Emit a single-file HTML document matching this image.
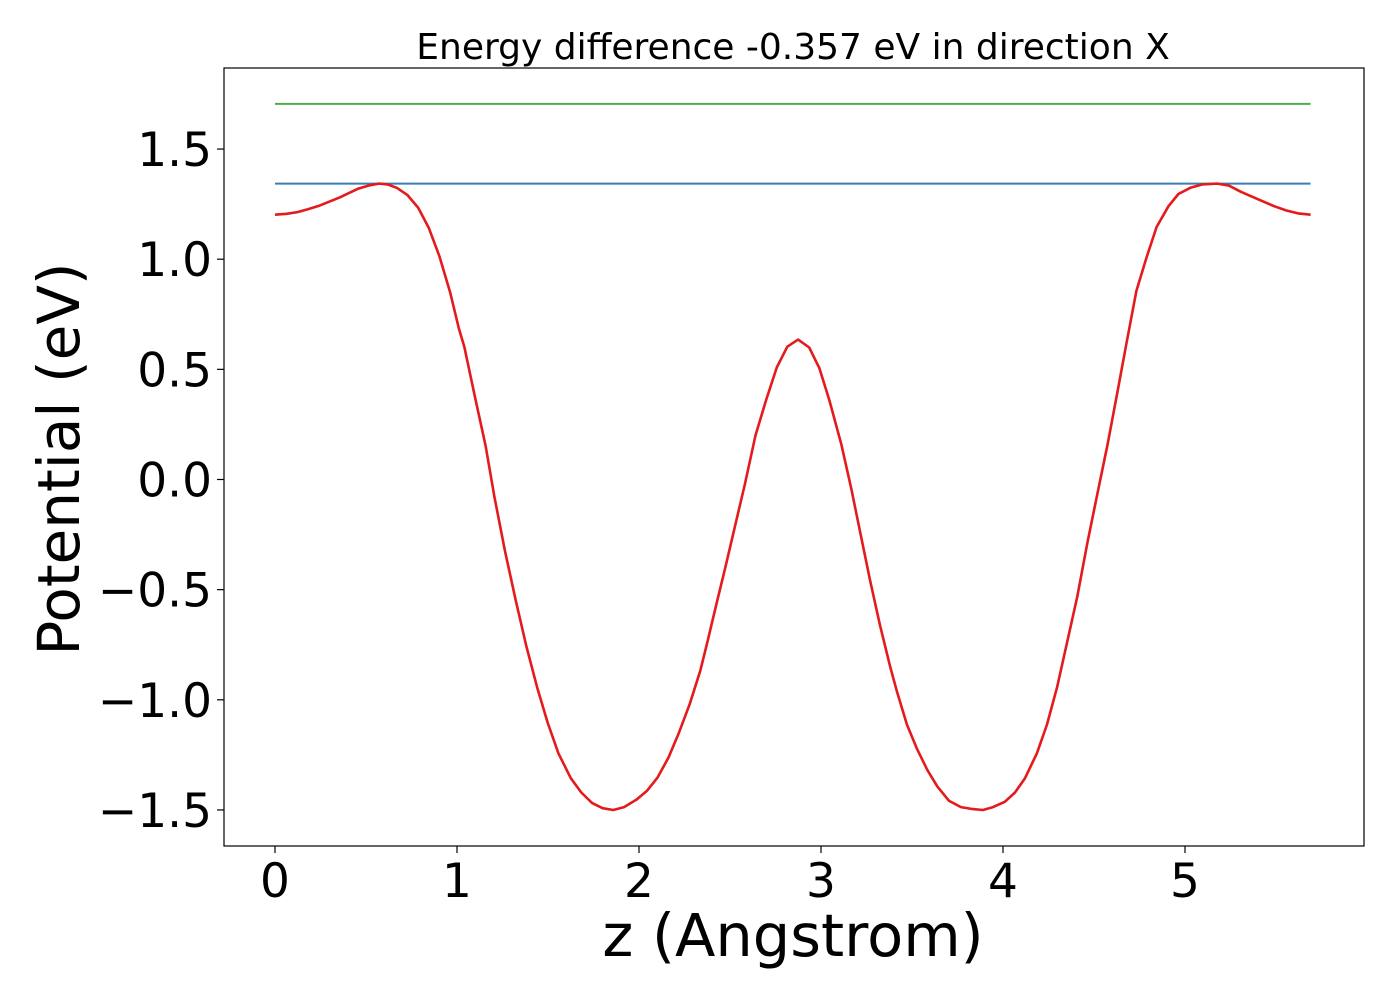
<!DOCTYPE html>
<html><head><meta charset="utf-8"><style>
html,body{margin:0;padding:0;background:#fff;}
svg{display:block;font-family:"DejaVu Sans","Liberation Sans",sans-serif;}
</style></head><body>
<svg id="chart" width="1400" height="1000" viewBox="0 0 1400 1000">
<rect x="0" y="0" width="1400" height="1000" fill="#fff"/>
<text x="793" y="59" font-size="36" text-anchor="middle" fill="#000">Energy difference -0.357 eV in direction X</text>
<g id="marks"></g>
<g id="axes"></g>
<rect x="224" y="68" width="1140" height="778" fill="none" stroke="#000" stroke-width="1.2"/>
<text x="793" y="956" font-size="59" text-anchor="middle" fill="#000">z (Angstrom)</text>
<text transform="translate(79,459) rotate(-90)" font-size="58" text-anchor="middle" fill="#000">Potential (eV)</text>
</svg>
<script>
const zValues = [0,0.064,0.123,0.181,0.240,0.298,0.357,0.406,0.454,0.513,0.571,0.620,0.669,0.727,0.786,0.845,0.903,0.962,1.010,1.040,1.098,1.157,1.206,1.264,1.323,1.381,1.440,1.498,1.557,1.625,1.683,1.742,1.800,1.859,1.918,1.986,2.045,2.103,2.162,2.220,2.279,2.337,2.376,2.425,2.474,2.522,2.581,2.640,2.698,2.757,2.815,2.874,2.935,2.991,3.046,3.111,3.167,3.213,3.269,3.324,3.380,3.417,3.472,3.528,3.584,3.639,3.704,3.769,3.834,3.890,3.945,4.010,4.066,4.121,4.186,4.242,4.297,4.353,4.408,4.464,4.519,4.575,4.631,4.677,4.733,4.788,4.844,4.909,4.964,5.029,5.094,5.177,5.242,5.307,5.372,5.437,5.492,5.557,5.622,5.690];
const potentialValues = [1.202,1.206,1.214,1.227,1.242,1.261,1.281,1.300,1.319,1.334,1.343,1.339,1.324,1.292,1.234,1.142,1.015,0.850,0.687,0.603,0.378,0.153,-0.081,-0.325,-0.550,-0.756,-0.943,-1.103,-1.243,-1.356,-1.421,-1.468,-1.492,-1.500,-1.487,-1.453,-1.412,-1.352,-1.262,-1.149,-1.018,-0.868,-0.737,-0.568,-0.400,-0.231,-0.025,0.200,0.359,0.509,0.603,0.635,0.599,0.505,0.359,0.162,-0.044,-0.231,-0.456,-0.662,-0.850,-0.962,-1.112,-1.224,-1.318,-1.393,-1.459,-1.487,-1.496,-1.500,-1.487,-1.463,-1.421,-1.356,-1.243,-1.112,-0.943,-0.737,-0.531,-0.287,-0.062,0.162,0.406,0.612,0.856,1.006,1.146,1.240,1.296,1.324,1.339,1.343,1.334,1.306,1.283,1.259,1.240,1.221,1.208,1.202];
const levelEnergies = [1.343, 1.705];
const levelNames = ['barrier-level-line','energy-level-line'];
const levelColors = ['#377eb8','#4daf4a'];
const xTicks = [0,1,2,3,4,5];
const xTickLabels = ['0','1','2','3','4','5'];
const yTicks = [1.5,1.0,0.5,0.0,-0.5,-1.0,-1.5];
const yTickLabels = ['1.5','1.0','0.5','0.0','\u22120.5','\u22121.0','\u22121.5'];

const NS='http://www.w3.org/2000/svg';
function xs(z){return 275 + z*182;}
function ys(v){return 479.5 - v*220.3;}
const marks=document.getElementById('marks');
const axes=document.getElementById('axes');
const zMin=zValues[0], zMax=zValues[zValues.length-1];
levelEnergies.forEach((e,i)=>{
  const l=document.createElementNS(NS,'line');
  l.setAttribute('x1',xs(zMin));l.setAttribute('x2',xs(zMax));
  l.setAttribute('y1',ys(e));l.setAttribute('y2',ys(e));
  l.setAttribute('stroke',levelColors[i]);l.setAttribute('stroke-width','2');
  
  
  marks.appendChild(l);
});
const pl=document.createElementNS(NS,'polyline');
pl.setAttribute('points',zValues.map((z,i)=>xs(z).toFixed(1)+','+ys(potentialValues[i]).toFixed(1)).join(' '));
pl.setAttribute('fill','none');pl.setAttribute('stroke','#e41a1c');pl.setAttribute('stroke-width','2.6');
pl.setAttribute('stroke-linejoin','round');


marks.appendChild(pl);
xTicks.forEach((t,i)=>{
  const tk=document.createElementNS(NS,'line');
  tk.setAttribute('x1',xs(t));tk.setAttribute('x2',xs(t));tk.setAttribute('y1',846);tk.setAttribute('y2',853);
  tk.setAttribute('stroke','#000');tk.setAttribute('stroke-width','1.2');
  
  
  axes.appendChild(tk);
  const tx=document.createElementNS(NS,'text');
  tx.setAttribute('x',xs(t));tx.setAttribute('y',897);tx.setAttribute('font-size','47');
  tx.setAttribute('text-anchor','middle');tx.textContent=xTickLabels[i];
  
  
  axes.appendChild(tx);
});
yTicks.forEach((t,i)=>{
  const tk=document.createElementNS(NS,'line');
  tk.setAttribute('x1',217);tk.setAttribute('x2',224);tk.setAttribute('y1',ys(t));tk.setAttribute('y2',ys(t));
  tk.setAttribute('stroke','#000');tk.setAttribute('stroke-width','1.2');
  
  
  axes.appendChild(tk);
  const tx=document.createElementNS(NS,'text');
  tx.setAttribute('x',212);tx.setAttribute('y',ys(t)+17);tx.setAttribute('font-size','47');
  tx.setAttribute('text-anchor','end');tx.textContent=yTickLabels[i];
  
  
  axes.appendChild(tx);
});
</script>
</body></html>
